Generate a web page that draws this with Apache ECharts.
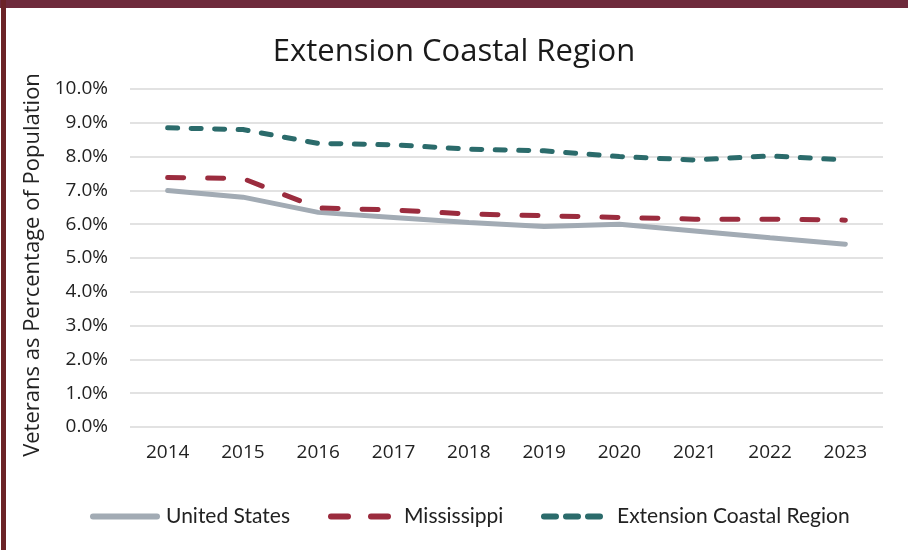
<!DOCTYPE html>
<html><head><meta charset="utf-8">
<script src="https://cdn.jsdelivr.net/npm/echarts@6/dist/echarts.min.js"></script>
<style>html,body{margin:0;padding:0;background:#fff}#c{width:908px;height:550px}</style>
</head><body><div id="c"></div>
<script>
const years = ['2014','2015','2016','2017','2018','2019','2020','2021','2022','2023'];
const unitedStates = [7.0, 6.8, 6.35, 6.2, 6.05, 5.93, 6.0, 5.8, 5.6, 5.41];
const mississippi = [7.38, 7.35, 6.48, 6.42, 6.3, 6.25, 6.2, 6.15, 6.15, 6.12];
const coastal = [8.85, 8.8, 8.39, 8.35, 8.22, 8.17, 8.0, 7.9, 8.02, 7.9];
const FONT = '"Open Sans", Lato, sans-serif';
function mkLegend(left, width, textPad, item) {
  return { left: left, top: 506, padding: 0, itemWidth: width, itemHeight: 14,
    itemStyle: { opacity: 0 },
    textStyle: { fontFamily: 'Lato, sans-serif', fontSize: 21, color: '#222', padding: [0, 0, 0, textPad] },
    data: [item] };
}
const chart = echarts.init(document.getElementById('c'));
chart.setOption({
  backgroundColor: '#fff',
  animation: false,
  title: { text: 'Extension Coastal Region', left: 'center', top: 32,
    textStyle: { fontFamily: FONT, fontSize: 31, fontWeight: 'normal', color: '#1a1a1a' } },
  graphic: [
    { type: 'rect', shape: { x: 0, y: 0, width: 908, height: 8 }, style: { fill: '#6e2a3c' } },
    { type: 'rect', shape: { x: 1, y: 0, width: 5, height: 550 }, style: { fill: '#6b2327' } }
  ],
  grid: { left: 130, right: 25, top: 89, bottom: 123 },
  legend: [
    mkLegend(90, 64, 4, { name: 'United States', lineStyle: { width: 6, type: 'solid', cap: 'round' } }),
    mkLegend(328, 57, 11, { name: 'Mississippi', lineStyle: { width: 6, type: [17, 23], cap: 'round' } }),
    mkLegend(541, 57, 11, { name: 'Extension Coastal Region', lineStyle: { width: 6, type: [12, 10], cap: 'round' } })
  ],
  xAxis: {
    type: 'category', data: years, boundaryGap: true,
    axisLine: { show: false }, axisTick: { show: false },
    axisLabel: { fontFamily: FONT, fontSize: 19, color: '#222', margin: 16 }
  },
  yAxis: {
    type: 'value', min: 0, max: 10, interval: 1,
    name: 'Veterans as Percentage of Population', nameLocation: 'middle', nameGap: 78,
    nameTextStyle: { fontFamily: FONT, fontSize: 22, color: '#222', padding: [0, 14, 0, 0] },
    axisLabel: { fontFamily: FONT, fontSize: 19, color: '#222', margin: 22,
      formatter: v => v.toFixed(1) + '%' },
    splitLine: { lineStyle: { color: '#d9d9d9', width: 1.5 } }
  },
  series: [
    { name: 'United States', type: 'line', data: unitedStates, symbol: 'none',
      color: '#a2abb4', lineStyle: { color: '#a2abb4', width: 5, cap: 'round' } },
    { name: 'Mississippi', type: 'line', data: mississippi, symbol: 'none',
      color: '#9b2c3e', lineStyle: { color: '#9b2c3e', width: 5, type: [16, 24], cap: 'round' } },
    { name: 'Extension Coastal Region', type: 'line', data: coastal, symbol: 'none',
      color: '#2b6b6b', lineStyle: { color: '#2b6b6b', width: 5, type: [10, 13.5], cap: 'round' } }
  ]
});
</script></body></html>
